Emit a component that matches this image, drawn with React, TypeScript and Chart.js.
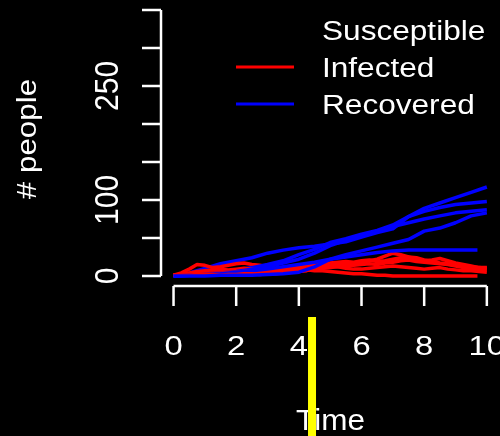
import { useEffect, useRef } from "react";
import { Chart, registerables } from "chart.js";

Chart.register(...registerables);

// Event-sampled time grids (infected on a finer grid, recovered on a coarser one)
const infTimes = [
  0, 0.25, 0.5, 0.75, 1, 1.25, 1.5, 1.75, 2, 2.25, 2.5, 2.75, 3, 3.25, 3.5, 3.75, 4, 4.25, 4.5, 4.75,
  5, 5.25, 5.5, 5.75, 6, 6.25, 6.5, 6.75, 7, 7.25, 7.5, 7.75, 8, 8.25, 8.5, 8.75, 9, 9.25, 9.5, 9.75, 10,
];
const recTimes = [0, 0.5, 1, 1.5, 2, 2.5, 3, 3.5, 4, 4.5, 5, 5.5, 6, 6.5, 7, 7.5, 8, 8.5, 9, 9.5, 10];
// run 4 stops early once the epidemic has died out
const run4End = 9.7;

// Infected counts per simulation run
const infected1 = [1, 1, 2, 2, 3, 3, 4, 4, 5, 5, 6, 5, 6, 7, 7, 8, 8, 9, 11, 12, 13, 15, 17, 16, 18, 20, 22, 26, 30, 28, 25, 24, 21, 19, 17, 16, 14, 13, 12, 11, 11];
const infected2 = [1, 4, 9, 15, 14, 11, 12, 14, 16, 17, 15, 14, 12, 10, 9, 10, 11, 13, 14, 15, 17, 18, 19, 18, 20, 21, 19, 20, 22, 24, 25, 22, 20, 21, 23, 20, 17, 15, 13, 11, 10];
const infected3 = [1, 2, 4, 6, 7, 8, 9, 8, 9, 10, 9, 8, 8, 7, 6, 7, 8, 9, 10, 12, 13, 12, 10, 9, 9, 10, 11, 12, 13, 12, 11, 10, 9, 10, 11, 9, 8, 7, 7, 6, 5];
const infected4 = [1, 1, 2, 3, 3, 4, 4, 5, 5, 6, 6, 5, 6, 7, 8, 8, 9, 8, 7, 7, 6, 5, 4, 3, 3, 2, 1, 1, 0, 0, 0, 0, 0, 0, 0, 0, 0, 0, 0, 0];
const infected5 = [1, 1, 1, 2, 2, 2, 1, 2, 2, 3, 3, 2, 3, 3, 4, 5, 6, 7, 9, 10, 11, 12, 13, 14, 15, 16, 15, 17, 18, 20, 21, 19, 18, 17, 16, 15, 13, 11, 10, 9, 8];

// Recovered counts per simulation run
const recovered1 = [0, 4, 10, 16, 20, 24, 30, 34, 37, 39, 42, 45, 51, 57, 62, 78, 89, 96, 103, 110, 117];
const recovered2 = [0, 1, 3, 5, 8, 11, 15, 20, 28, 35, 44, 49, 55, 60, 67, 78, 85, 90, 94, 96, 98];
const recovered3 = [0, 1, 2, 4, 6, 9, 12, 17, 22, 30, 40, 47, 53, 59, 65, 70, 75, 79, 83, 85, 87];
const recovered4 = [0, 1, 2, 3, 5, 7, 9, 12, 15, 18, 22, 25, 28, 31, 33, 34, 34, 34, 34, 34, 34];
const recovered5 = [0, 0, 0, 1, 1, 1, 2, 3, 5, 12, 22, 28, 33, 38, 43, 48, 59, 63, 70, 79, 83];

const legendLabels = ["Susceptible", "Infected", "Recovered"];
const legendColors = ["#000000", "#ff0000", "#0000ff"];

const xTicks = [0, 2, 4, 6, 8, 10];
const yTicks = [0, 50, 100, 150, 200, 250, 300, 350];
const yTickLabels = ["0", "", "100", "", "", "250", "", ""];

const xTitle = "Time";
const yTitle = "# people";
// current position of the time cursor
const cursorTime = 4.42;

const FONT = '"Liberation Sans", Arial, Helvetica, sans-serif';

function upTo(times: number[], end: number): number[] {
  return [...times.filter((t) => t < end), end];
}

function pts(times: number[], values: number[]) {
  return values.map((v, i) => ({ x: times[i], y: v }));
}

function drawText(
  ctx: CanvasRenderingContext2D,
  text: string,
  x: number,
  y: number,
  size: number,
  along: number,
  across: number,
  rotated: boolean,
  align: CanvasTextAlign,
) {
  ctx.save();
  ctx.translate(x, y);
  if (rotated) ctx.rotate(-Math.PI / 2);
  ctx.scale(along, across);
  ctx.font = `${size}px ${FONT}`;
  ctx.textAlign = align;
  ctx.textBaseline = "alphabetic";
  ctx.fillStyle = "#ffffff";
  ctx.fillText(text, 0, 0);
  ctx.restore();
}

const baseAxesPlugin = {
  id: "baseAxes",
  beforeDraw(chart: any) {
    const { ctx, width, height } = chart;
    ctx.save();
    ctx.fillStyle = "#000000";
    ctx.fillRect(0, 0, width, height);
    ctx.restore();
  },
  afterDraw(chart: any) {
    const { ctx, chartArea } = chart;
    const xs = chart.scales.x;
    const ys = chart.scales.y;
    ctx.save();
    ctx.strokeStyle = "#ffffff";
    ctx.lineWidth = 2.5;
    ctx.lineCap = "butt";

    // x axis
    const xAxisY = chartArea.bottom;
    ctx.beginPath();
    ctx.moveTo(xs.getPixelForValue(xTicks[0]), xAxisY);
    ctx.lineTo(xs.getPixelForValue(xTicks[xTicks.length - 1]), xAxisY);
    for (const t of xTicks) {
      const px = xs.getPixelForValue(t);
      ctx.moveTo(px, xAxisY);
      ctx.lineTo(px, xAxisY + 20);
    }
    ctx.stroke();
    for (const t of xTicks) {
      drawText(ctx, String(t), xs.getPixelForValue(t), xAxisY + 69, 28, 1.17, 1, false, "center");
    }

    // y axis
    const yAxisX = chartArea.left;
    ctx.beginPath();
    ctx.moveTo(yAxisX, ys.getPixelForValue(yTicks[0]));
    ctx.lineTo(yAxisX, ys.getPixelForValue(yTicks[yTicks.length - 1]));
    for (const v of yTicks) {
      const py = ys.getPixelForValue(v);
      ctx.moveTo(yAxisX, py);
      ctx.lineTo(yAxisX - 19, py);
    }
    ctx.stroke();
    yTicks.forEach((v, i) => {
      if (!yTickLabels[i]) return;
      drawText(ctx, yTickLabels[i], yAxisX - 43, ys.getPixelForValue(v), 28, 1.07, 1.2, true, "center");
    });

    // axis titles
    drawText(ctx, xTitle, (chartArea.left + chartArea.right) / 2, 430, 30, 1.05, 1, false, "center");
    drawText(ctx, yTitle, 36, 139, 28, 1.12, 1, true, "center");

    // legend
    legendLabels.forEach((label, i) => {
      const ly = 30 + i * 37;
      ctx.strokeStyle = legendColors[i];
      ctx.lineWidth = 3;
      ctx.beginPath();
      ctx.moveTo(236, ly);
      ctx.lineTo(294, ly);
      ctx.stroke();
      drawText(ctx, label, 322, ly + 9.5, 27, 1.17, 1, false, "left");
    });

    // time cursor
    const cx = xs.getPixelForValue(cursorTime);
    ctx.fillStyle = "#ffff00";
    ctx.fillRect(cx - 4, xAxisY + 31, 8, chart.height - (xAxisY + 31));
    ctx.restore();
  },
};

export default function App() {
  const canvasRef = useRef<HTMLCanvasElement | null>(null);

  useEffect(() => {
    const canvas = canvasRef.current;
    if (!canvas) return;

    const runs = [
      { inf: pts(infTimes, infected1), rec: pts(recTimes, recovered1) },
      { inf: pts(infTimes, infected2), rec: pts(recTimes, recovered2) },
      { inf: pts(infTimes, infected3), rec: pts(recTimes, recovered3) },
      { inf: pts(upTo(infTimes, run4End), infected4), rec: pts(upTo(recTimes, run4End), recovered4) },
      { inf: pts(infTimes, infected5), rec: pts(recTimes, recovered5) },
    ];

    const line = (label: string, color: string, data: { x: number; y: number }[]) => ({
      label,
      data,
      borderColor: color,
      backgroundColor: color,
      borderWidth: 3.5,
      borderJoinStyle: "round",
      pointRadius: 0,
      tension: 0,
      fill: false,
    });

    // later runs are painted over earlier ones
    const datasets: any[] = [];
    runs.forEach((r) => {
      datasets.push(line(legendLabels[1], legendColors[1], r.inf));
      datasets.push(line(legendLabels[2], legendColors[2], r.rec));
    });
    datasets.reverse();

    const chart = new Chart(canvas, {
      type: "line",
      data: { datasets },
      options: {
        animation: false,
        responsive: false,
        maintainAspectRatio: false,
        devicePixelRatio: 1,
        layout: { padding: { left: 161, right: 0, top: 0, bottom: 150 } },
        plugins: { legend: { display: false }, tooltip: { enabled: false } },
        scales: {
          x: { type: "linear", min: -0.4, max: 10.42, display: false },
          y: { type: "linear", min: -13.2, max: 363, display: false },
        },
      },
      plugins: [baseAxesPlugin],
    });
    return () => chart.destroy();
  }, []);

  return (
    <div style={{ position: "fixed", left: 0, top: 0, width: 500, height: 436, background: "#000" }}>
      <canvas ref={canvasRef} width={500} height={436} style={{ display: "block", width: 500, height: 436 }} />
    </div>
  );
}
